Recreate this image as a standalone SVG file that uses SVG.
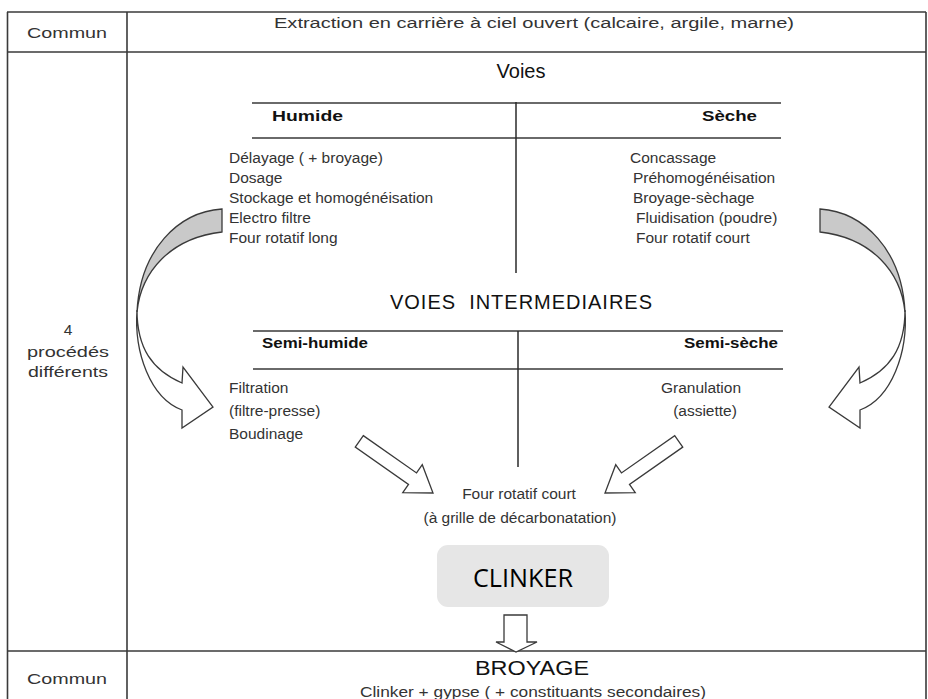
<svg xmlns="http://www.w3.org/2000/svg" xmlns:xlink="http://www.w3.org/1999/xlink" width="928" height="699" viewBox="0 0 928 699">
<style>
  .frame { stroke: #3a3a3a; stroke-width: 1.6; fill: none; }
  .rule { stroke: #6a6a6a; stroke-width: 2.2; fill: none; }
  .vrule { stroke: #2a2a2a; stroke-width: 1.5; fill: none; }
  .t { font-family: "Liberation Sans", Arial, sans-serif; fill: #333; font-size: 15.5px; }
  .h { font-family: "Liberation Sans", Arial, sans-serif; fill: #111; font-size: 15.5px; font-weight: bold; }
  .big { font-family: "Liberation Sans", Arial, sans-serif; fill: #111; font-size: 20px; }
  .c { text-anchor: middle; }
  .e { text-anchor: end; }
  .arrow { fill: #ffffff; stroke: #3a3a3a; stroke-width: 1.3; stroke-linejoin: miter; }
  .band { fill: #c9c9c9; stroke: #3a3a3a; stroke-width: 1.3; }
</style>
<defs>
  <g id="curved-arrow">
    <path class="arrow" d="M137,310 C137,348 152,370 182,383 L183,367 L213,407 L182,428 L182,410 C150,398 134,352 137,310 Z"/>
    <path class="band" d="M222,209 C178,212 140,250 137,312 C141,272 170,238 222,232 Z"/>
  </g>
  <path id="block-arrow" d="M-90,-7 L-25,-7 L-25,-17 L0,0 L-25,17 L-25,7 L-90,7 Z"/>
</defs>

<g id="table">
  <line class="frame" x1="7" y1="12" x2="926" y2="12"/>
  <line class="frame" x1="7.5" y1="12" x2="7.5" y2="699"/>
  <line class="frame" x1="926" y1="12" x2="926" y2="699"/>
  <line class="frame" x1="127" y1="12" x2="127" y2="699"/>
  <line class="frame" x1="7" y1="52" x2="926" y2="52"/>
  <line class="frame" x1="7" y1="651" x2="926" y2="651"/>
</g>

<g id="row-top">
  <text class="t c" x="67" y="38" font-size="15" textLength="80" lengthAdjust="spacingAndGlyphs">Commun</text>
  <text class="t c" x="534" y="28" font-size="16.5" textLength="520" lengthAdjust="spacingAndGlyphs">Extraction en carrière à ciel ouvert (calcaire, argile, marne)</text>
</g>

<g id="row-label">
  <text class="t c" x="68" y="335" font-size="15">4</text>
  <text class="t c" x="68" y="357" font-size="15" textLength="82" lengthAdjust="spacingAndGlyphs">procédés</text>
  <text class="t c" x="68" y="377" font-size="15" textLength="80" lengthAdjust="spacingAndGlyphs">différents</text>
</g>

<g id="voies">
  <text class="big c" x="521" y="78" font-size="24">Voies</text>
  <line class="rule" x1="252" y1="103" x2="781" y2="103"/>
  <line class="rule" x1="252" y1="138" x2="781" y2="138"/>
  <line class="vrule" x1="516" y1="102" x2="516" y2="273"/>
  <text class="h" x="272" y="121" textLength="71" lengthAdjust="spacingAndGlyphs">Humide</text>
  <text class="h" x="702" y="121" textLength="55" lengthAdjust="spacingAndGlyphs">Sèche</text>
</g>

<g id="humide-list">
  <text class="t" x="229" y="163">Délayage ( + broyage)</text>
  <text class="t" x="229" y="183">Dosage</text>
  <text class="t" x="229" y="203">Stockage et homogénéisation</text>
  <text class="t" x="229" y="223">Electro filtre</text>
  <text class="t" x="229" y="243">Four rotatif long</text>
</g>

<g id="seche-list">
  <text class="t" x="630" y="163">Concassage</text>
  <text class="t" x="633" y="183">Préhomogénéisation</text>
  <text class="t" x="633" y="203">Broyage-sèchage</text>
  <text class="t" x="636" y="223">Fluidisation (poudre)</text>
  <text class="t" x="636" y="243">Four rotatif court</text>
</g>

<g id="voies-intermediaires">
  <text class="big c" x="521" y="309" textLength="262" lengthAdjust="spacing" xml:space="preserve">VOIES  INTERMEDIAIRES</text>
  <line class="rule" x1="253" y1="331" x2="783" y2="331"/>
  <line class="rule" x1="253" y1="369" x2="783" y2="369"/>
  <line class="vrule" x1="518" y1="331" x2="518" y2="467"/>
  <text class="h" x="262" y="348" textLength="106" lengthAdjust="spacingAndGlyphs">Semi-humide</text>
  <text class="h" x="684" y="348" textLength="94" lengthAdjust="spacingAndGlyphs">Semi-sèche</text>
</g>

<g id="semi-humide-list">
  <text class="t" x="229" y="393">Filtration</text>
  <text class="t" x="229" y="416">(filtre-presse)</text>
  <text class="t" x="229" y="439">Boudinage</text>
</g>

<g id="semi-seche-list">
  <text class="t c" x="701" y="393">Granulation</text>
  <text class="t c" x="705" y="416">(assiette)</text>
</g>

<g id="four-court">
  <text class="t c" x="519" y="499">Four rotatif court</text>
  <text class="t c" x="520" y="523">(à grille de décarbonatation)</text>
</g>

<g id="clinker">
  <rect x="437" y="545" width="172" height="62" rx="11" ry="11" fill="#e6e6e6"/>
  <text x="523" y="587" text-anchor="middle" font-family="'Open Sans', 'Liberation Sans', sans-serif" font-size="26" fill="#000" textLength="100" lengthAdjust="spacingAndGlyphs">CLINKER</text>
</g>

<g id="row-bottom">
  <text class="t c" x="67" y="684" font-size="15" textLength="80" lengthAdjust="spacingAndGlyphs">Commun</text>
  <text class="big c" x="532" y="675" fill="#333" textLength="114" lengthAdjust="spacingAndGlyphs">BROYAGE</text>
  <text class="t c" x="533" y="697" font-size="15" textLength="346" lengthAdjust="spacingAndGlyphs">Clinker + gypse ( + constituants secondaires)</text>
</g>

<g id="connectors">
  <use xlink:href="#curved-arrow" href="#curved-arrow"/>
  <use xlink:href="#curved-arrow" href="#curved-arrow" transform="translate(1042,0) scale(-1,1)"/>
  <use xlink:href="#block-arrow" href="#block-arrow" class="arrow" transform="translate(433,493) rotate(35)"/>
  <use xlink:href="#block-arrow" href="#block-arrow" class="arrow" transform="translate(605,493) rotate(145)"/>
  <path class="arrow" d="M504,615 L527,615 L527,642 L537,642 L516,652 L496,642 L504,642 Z"/>
</g>
</svg>
